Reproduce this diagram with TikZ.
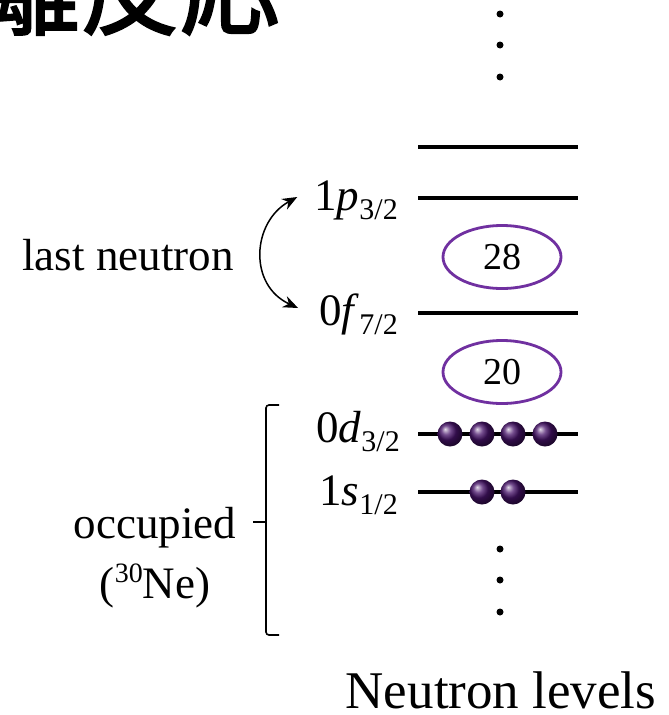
\documentclass[tikz,border=0pt]{standalone}
\usepackage{fontspec}
\setmainfont{Liberation Serif}
\newfontfamily\cjk{Noto Sans CJK JP}[FakeBold=2]
\usetikzlibrary{arrows.meta,shapes.geometric}
\definecolor{ringpurple}{RGB}{112,48,160}
\definecolor{ballpurple}{RGB}{70,18,105}
\begin{document}
\begin{tikzpicture}[x=1pt,y=-1pt,
  level/.style={line width=3.6pt},
  lab/.style={font=\fontsize{45}{45}\selectfont, anchor=base east, inner sep=0pt},
  big/.style={font=\fontsize{45}{45}\selectfont, inner sep=0pt},
  ring/.style={ellipse, draw=ringpurple, line width=2.8pt, minimum width=118pt, minimum height=63pt, inner sep=0pt, font=\fontsize{38}{38}\selectfont},
  ball/.style={circle, minimum size=25pt, inner sep=0pt, shading=ball, ball color=ballpurple},
  vdot/.style={circle, fill=black, minimum size=7pt, inner sep=0pt}]
\useasboundingbox (0,0) rectangle (669,715);
\fill[white] (0,0) rectangle (669,715);
% title (cut off)
\node[anchor=base east, inner sep=0pt, font=\cjk\fontsize{100}{100}\selectfont] (title) at (280,27) {離反応};
% top dots
\node[vdot] (t1) at (500,14) {};
\node[vdot] (t2) at (500,45) {};
\node[vdot] (t3) at (500,77) {};
% levels
\coordinate (l0a) at (418,147); \coordinate (l0b) at (578,147);
\coordinate (l1a) at (418,198); \coordinate (l1b) at (578,198);
\coordinate (l2a) at (418,313); \coordinate (l2b) at (578,313);
\coordinate (l3a) at (418,434); \coordinate (l3b) at (578,434);
\coordinate (l4a) at (418,492); \coordinate (l4b) at (578,492);
\draw[level] (l0a) -- (l0b);
\draw[level] (l1a) -- (l1b);
\draw[level] (l2a) -- (l2b);
\draw[level] (l3a) -- (l3b);
\draw[level] (l4a) -- (l4b);
% labels
\node[lab] (p) at (398,210) {1\textit{p}\raisebox{-9pt}{\fontsize{30}{30}\selectfont 3/2}};
\node[lab] (f) at (398,325) {0\textit{f}\raisebox{-9pt}{\fontsize{30}{30}\selectfont 7/2}};
\node[lab] (d) at (400,442) {0\textit{d}\raisebox{-9pt}{\fontsize{30}{30}\selectfont 3/2}};
\node[lab] (s) at (398,505) {1\textit{s}\raisebox{-9pt}{\fontsize{30}{30}\selectfont 1/2}};
% magic numbers
\node[ring] (m28) at (502,257) {28};
\node[ring] (m20) at (502,372) {20};
% balls
\node[ball] (b1) at (450,434) {};
\node[ball] (b2) at (482,434) {};
\node[ball] (b3) at (513,434) {};
\node[ball] (b4) at (545,434) {};
\node[ball] (b5) at (482,492) {};
\node[ball] (b6) at (513,492) {};
% bottom dots
\node[vdot] (u1) at (500,549) {};
\node[vdot] (u2) at (500,580) {};
\node[vdot] (u3) at (500,612) {};
% last neutron arrow
\coordinate (ta) at ([xshift=-17pt,yshift=13pt]p.base west);
\coordinate (tb) at ([xshift=-21pt,yshift=17pt]f.base west);
\draw[line width=1.5pt, {Stealth[length=15pt,width=12pt]}-{Stealth[length=15pt,width=12pt]}] (ta) .. controls (252,222) and (248,285) .. (tb);
\node[big, anchor=base] (ln) at (128,270) {last neutron};
% occupied bracket
\coordinate (bt) at (279,405);
\coordinate (bb) at (279,635);
\coordinate (bm) at (253,522);
\draw[line width=1.6pt, rounded corners=3pt] (bt) -- (266,405) -- (266,635) -- (bb);
\draw[line width=1.6pt] (bm) -- (266,522);
\node[big, anchor=base] (occ) at (155,538) {occupied};
\node[big, anchor=base] (ne) at (155,598) {(\raisebox{16pt}{\fontsize{28}{28}\selectfont 30}Ne)};
% caption
\node[anchor=base, inner sep=0pt, font=\fontsize{53}{53}\selectfont] (cap) at (501,708) {Neutron levels};
\end{tikzpicture}
\end{document}
